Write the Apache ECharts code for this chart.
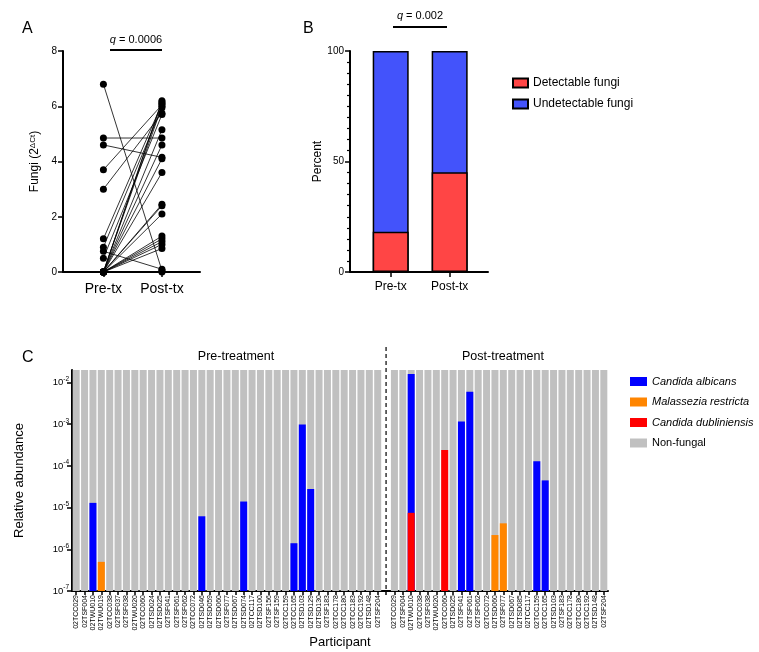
<!DOCTYPE html>
<html>
<head>
<meta charset="utf-8">
<title>Fungi pre/post treatment</title>
<style>
  html, body { margin: 0; padding: 0; background: #fff; }
  #container { width: 759px; height: 652px; }
</style>
</head>
<body>
<div id="container"></div>
<script src="https://cdn.jsdelivr.net/npm/echarts@6/dist/echarts.min.js"></script>
<script>
// A: paired qPCR values (2^dCt), one entry per participant
var fungiPre  = [6.8, 4.85, 4.6, 3.7, 3.0, 1.2, 0.9, 0.75, 0.5, 0, 0, 0, 0, 0, 0, 0, 0, 0, 0, 0, 0, 0, 0, 0, 0];
var fungiPost = [0.05, 4.85, 4.15, 6.05, 5.75, 6.1, 5.95, 0.1, 5.7, 6.2, 6.0, 6.15, 5.15, 4.6, 4.1, 3.6, 2.45, 2.4, 2.1, 1.3, 1.2, 1.1, 1.0, 0.85, 0];

// B: percent detectable / undetectable
var groups = ['Pre-tx', 'Post-tx'];
var detectable = [18.2, 45.1];
var undetectable = [81.8, 54.9];

// C: participants and relative abundances
var preIds = ['02TCC029', '02TSF004', '02TWU010', '02TWU019', '02TCC038', '02TSF037', '02TSF038', '02TWU020',
  '02TCC060', '02TSD024', '02TSD025', '02TSF041', '02TSF061', '02TSF062', '02TCC072', '02TSD046', '02TSD059',
  '02TSD060', '02TSF077', '02TSD067', '02TSD074', '02TCC117', '02TSD100', '02TSF156', '02TSF159', '02TCC159',
  '02TCC165', '02TSD103', '02TSD129', '02TSD130', '02TSF183', '02TCC178', '02TCC180', '02TCC183', '02TCC192',
  '02TSD148', '02TSF204'];
var postIds = ['02TCC029', '02TSF004', '02TWU010', '02TCC038', '02TSF038', '02TWU020', '02TCC060', '02TSD025',
  '02TSF041', '02TSF061', '02TSF062', '02TCC072', '02TSD060', '02TSF077', '02TSD067', '02TSD085', '02TCC117',
  '02TCC159', '02TCC165', '02TSD103', '02TSF183', '02TCC178', '02TCC180', '02TCC192', '02TSD148', '02TSF204'];
var preAlbicans = [['02TWU010', 1.3e-5], ['02TSD046', 6.2e-6], ['02TSD074', 1.4e-5], ['02TCC165', 1.4e-6],
  ['02TSD103', 9.8e-4], ['02TSD129', 2.8e-5]];
var preRestricta = [['02TWU019', 5e-7]];
var preDubliniensis = [];
var postAlbicans = [['02TWU010', 1.6e-2], ['02TSF041', 1.16e-3], ['02TSF061', 6.0e-3], ['02TCC159', 1.3e-4],
  ['02TCC165', 4.5e-5]];
var postRestricta = [['02TSD060', 2.2e-6], ['02TSF077', 4.2e-6]];
var postDubliniensis = [['02TWU010', 7.5e-6], ['02TCC060', 2.4e-4]];
var logTicks = [1e-7, 1e-6, 1e-5, 1e-4, 1e-3, 1e-2];

var font = 'Liberation Sans, Arial, sans-serif';
var chart = echarts.init(document.getElementById('container'));

// one category column per participant, blank column between the two phases
var cats = preIds.concat([''], postIds);
var splitIdx = preIds.length;
function column(prePairs, postPairs) {
  var col = cats.map(function () { return null; });
  prePairs.forEach(function (p) { col[preIds.indexOf(p[0])] = p[1]; });
  postPairs.forEach(function (p) { col[splitIdx + 1 + postIds.indexOf(p[0])] = p[1]; });
  return col;
}
var colAlb = column(preAlbicans, postAlbicans);
var colRes = column(preRestricta, postRestricta);
var colDub = column(preDubliniensis, postDubliniensis);
var colNon = cats.map(function (c, i) {
  if (c === '') return null;
  return 1 - (colAlb[i] || 0) - (colRes[i] || 0) - (colDub[i] || 0);
});

function cBar(name, color, data) {
  return {
    name: name, type: 'bar', xAxisIndex: 2, yAxisIndex: 2, data: data,
    barWidth: 7, barGap: '-100%', itemStyle: { color: color }
  };
}

var axisLine = { show: true, lineStyle: { color: '#000', width: 2 } };
var tickStyle = { color: '#000', width: 1.5 };

var series = [];
// A: pairs joined by thin lines
for (var i = 0; i < fungiPre.length; i++) {
  series.push({
    name: 'pair' + i, type: 'line', xAxisIndex: 0, yAxisIndex: 0,
    data: [[1, fungiPre[i]], [2, fungiPost[i]]],
    symbol: 'circle', symbolSize: 7, clip: false,
    itemStyle: { color: '#000' },
    lineStyle: { color: '#000', width: 0.8 }
  });
}
// B: undetectable sits on top of detectable; drawn as full column with the red part over it
series.push({
  name: 'Undetectable fungi', type: 'bar', xAxisIndex: 1, yAxisIndex: 1, barWidth: 36, barGap: '-100%',
  data: undetectable.map(function (v, k) { return [k + 1, v + detectable[k]]; }),
  itemStyle: { color: '#4353fb', borderColor: '#000', borderWidth: 1.5 }
});
series.push({
  name: 'Detectable fungi', type: 'bar', xAxisIndex: 1, yAxisIndex: 1, barWidth: 36, barGap: '-100%',
  data: detectable.map(function (v, k) { return [k + 1, v]; }),
  itemStyle: { color: '#ff4545', borderColor: '#000', borderWidth: 1.5 }
});
// C: grey background bars with fungal bars drawn over them
series.push(cBar('Non-fungal', '#c0c0c0', colNon));
series.push(cBar('Candida albicans', '#0000ff', colAlb));
series.push(cBar('Malassezia restricta', '#ff8500', colRes));
series.push(cBar('Candida dubliniensis', '#ff0000', colDub));

function powLabel(v) {
  var e = Math.round(Math.log(v) / Math.LN10);
  return '{b|10}{sup|' + e + '}';
}
var powRich = {
  b: { fontSize: 9.5, lineHeight: 14, verticalAlign: 'middle', color: '#000', fontFamily: font },
  sup: { fontSize: 6.5, lineHeight: 7, verticalAlign: 'top', color: '#000', fontFamily: font }
};

chart.setOption({
  animation: false,
  textStyle: { fontFamily: font, color: '#000' },
  grid: [
    { left: 63, top: 51, width: 137, height: 221, outerBoundsMode: 'none' },
    { left: 350, top: 51, width: 138, height: 221, outerBoundsMode: 'none' },
    { left: 72, top: 370, width: 536, height: 221, outerBoundsMode: 'none' }
  ],
  xAxis: [
    {
      type: 'value', gridIndex: 0, min: 0.31, max: 2.65,
      axisLine: axisLine, splitLine: { show: false },
      axisTick: { show: true, length: 5, lineStyle: tickStyle, customValues: [1, 2] },
      axisLabel: { customValues: [1, 2], fontSize: 14, color: '#000', margin: 10,
        formatter: function (v) { return groups[v - 1]; } }
    },
    {
      type: 'value', gridIndex: 1, min: 0.31, max: 2.65,
      axisLine: axisLine, splitLine: { show: false },
      axisTick: { show: true, length: 5, lineStyle: tickStyle, customValues: [1, 2] },
      axisLabel: { customValues: [1, 2], fontSize: 12, color: '#000', margin: 9,
        formatter: function (v) { return groups[v - 1]; } }
    },
    {
      type: 'category', gridIndex: 2, data: cats,
      axisLine: axisLine,
      axisTick: { show: true, alignWithLabel: true, interval: 0, length: 4, lineStyle: tickStyle },
      axisLabel: { interval: 0, rotate: 90, fontSize: 7, color: '#000', margin: 4 },
      name: 'Participant', nameLocation: 'middle', nameGap: 45,
      nameTextStyle: { fontSize: 13, color: '#000' }
    }
  ],
  yAxis: [
    {
      type: 'value', gridIndex: 0, min: 0, max: 8, interval: 2,
      axisLine: axisLine, splitLine: { show: false },
      axisTick: { show: true, length: 5, lineStyle: tickStyle },
      axisLabel: { fontSize: 10, color: '#000', margin: 6 },
      name: 'Fungi (2{sup|ΔCt})', nameLocation: 'middle', nameGap: 22, nameRotate: 90,
      nameTextStyle: { fontSize: 12, color: '#000',
        rich: { sup: { fontSize: 8, verticalAlign: 'top', lineHeight: 8, color: '#000' } } }
    },
    {
      type: 'value', gridIndex: 1, min: 0, max: 100, interval: 50,
      axisLine: axisLine, splitLine: { show: false },
      axisTick: { show: true, length: 5, lineStyle: tickStyle },
      minorTick: { show: true, splitNumber: 10, length: 3, lineStyle: { color: '#000', width: 1.2 } },
      axisLabel: { fontSize: 10, color: '#000', margin: 6 },
      name: 'Percent', nameLocation: 'middle', nameGap: 25, nameRotate: 90,
      nameTextStyle: { fontSize: 12, color: '#000' }
    },
    {
      type: 'log', logBase: 10, gridIndex: 2, min: 1e-7, max: 0.02, startValue: 1e-7,
      axisLine: axisLine, splitLine: { show: false },
      axisTick: { show: true, length: 5, lineStyle: tickStyle, customValues: logTicks },
      axisLabel: { customValues: logTicks, formatter: powLabel, rich: powRich, margin: 3 },
      name: 'Relative abundance', nameLocation: 'middle', nameGap: 46, nameRotate: 90,
      nameTextStyle: { fontSize: 13, color: '#000' }
    }
  ],
  legend: [
    {
      orient: 'vertical', left: 507, top: 72, icon: 'rect', itemWidth: 15, itemHeight: 9, itemGap: 9,
      selectedMode: false, textStyle: { fontSize: 12, color: '#000' },
      data: ['Detectable fungi', 'Undetectable fungi']
    },
    {
      orient: 'vertical', left: 625, top: 371, icon: 'rect', itemWidth: 17, itemHeight: 9, itemGap: 9.5,
      selectedMode: false, textStyle: { fontSize: 11, color: '#000' },
      data: [
        { name: 'Candida albicans', textStyle: { fontStyle: 'italic' } },
        { name: 'Malassezia restricta', textStyle: { fontStyle: 'italic' } },
        { name: 'Candida dubliniensis', textStyle: { fontStyle: 'italic' } },
        { name: 'Non-fungal' }
      ]
    }
  ],
  series: series
});

// annotations: panel letters, q values, phase titles, dashed separator
var sepX = chart.convertToPixel({ xAxisIndex: 2 }, splitIdx);
var qRich = { i: { fontStyle: 'italic', fontSize: 11, fontFamily: font, fill: '#000' } };
chart.setOption({
  graphic: [
    { type: 'text', left: 22, top: 21, style: { text: 'A', fontSize: 16, fontFamily: font, fill: '#000' } },
    { type: 'text', left: 303, top: 21, style: { text: 'B', fontSize: 16, fontFamily: font, fill: '#000' } },
    { type: 'text', left: 22, top: 350, style: { text: 'C', fontSize: 16, fontFamily: font, fill: '#000' } },
    { type: 'text', x: 136, y: 40, style: { text: '{i|q} = 0.0006', rich: qRich, fontSize: 11, fontFamily: font,
      fill: '#000', align: 'center', verticalAlign: 'middle' } },
    { type: 'line', shape: { x1: 110, y1: 50, x2: 162, y2: 50 }, style: { stroke: '#000', lineWidth: 2 } },
    { type: 'text', x: 420, y: 16, style: { text: '{i|q} = 0.002', rich: qRich, fontSize: 11, fontFamily: font,
      fill: '#000', align: 'center', verticalAlign: 'middle' } },
    { type: 'line', shape: { x1: 393, y1: 27, x2: 447, y2: 27 }, style: { stroke: '#000', lineWidth: 2 } },
    { type: 'text', x: 236, y: 357, style: { text: 'Pre-treatment', fontSize: 12.5, fontFamily: font, fill: '#000',
      align: 'center', verticalAlign: 'middle' } },
    { type: 'text', x: 503, y: 357, style: { text: 'Post-treatment', fontSize: 12.5, fontFamily: font, fill: '#000',
      align: 'center', verticalAlign: 'middle' } },
    { type: 'line', z: 10, shape: { x1: sepX, y1: 347, x2: sepX, y2: 591 },
      style: { stroke: '#000', lineWidth: 1.2, lineDash: [4, 3] } }
  ]
});
</script>
</body>
</html>
